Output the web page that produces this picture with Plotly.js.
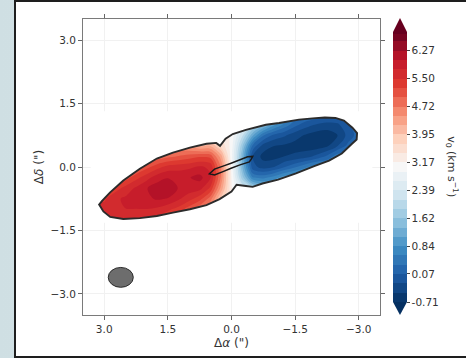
<!DOCTYPE html>
<html>
<head>
<meta charset="utf-8">
<script src="https://cdn.plot.ly/plotly-3.0.1.min.js"></script>
<style>
  html, body { margin:0; padding:0; width:466px; height:358px; overflow:hidden;
    background: linear-gradient(90deg, #cfdfe3 0%, #dde9eb 100%); }
  #frame { position:absolute; left:14px; top:0; width:452px; height:354px;
    border-top:2px solid #1e1e1e; border-left:2px solid #1e1e1e; border-bottom:2px solid #1e1e1e;
    background:#fff; }
  #chart { width:450px; height:354px; }
</style>
</head>
<body>
<div id="frame"><div id="chart"></div></div>
<script>
// ---- data ----
const xOffsets = [3.25, 3.0, 2.75, 2.5, 2.25, 2.0, 1.75, 1.5, 1.25, 1.0, 0.75, 0.5, 0.25, 0,
                  -0.25, -0.5, -0.75, -1.0, -1.25, -1.5, -1.75, -2.0, -2.25, -2.5, -2.75, -3.0, -3.25];
const yOffsets = [-1.25, -1.0, -0.75, -0.5, -0.25, 0, 0.25, 0.5, 0.75, 1.0, 1.25];
const N = null;
const velocity = [
  [N, 5.55, 5.5, 5.5, 5.5, 5.45, 5.35, 5.25, 5.15, 5.0, 4.7, N, N, N, N, N, N, N, N, N, N, N, N, N, N, N, N],
  [5.55, 5.6, 5.7, 5.75, 5.75, 5.75, 5.7, 5.55, 5.4, 5.1, 4.75, 4.4, 3.8, 3.3, N, N, N, N, N, N, N, N, N, N, N, N, N],
  [5.5, 5.45, 5.7, 5.8, 5.85, 5.95, 6.05, 6.0, 5.8, 5.6, 5.35, 4.85, 3.9, 3.3, 2.5, 2.0, N, N, N, N, N, N, N, N, N, N, N],
  [N, 5.35, 5.35, 5.6, 5.8, 6.0, 6.15, 6.2, 6.0, 5.9, 5.85, 5.45, 4.4, 3.2, 2.4, 1.85, 1.5, 1.4, 1.3, N, N, N, N, N, N, N, N],
  [N, N, 5.15, 5.1, 5.4, 5.65, 5.9, 6.0, 5.95, 6.0, 6.1, 5.8, 4.7, 3.15, 1.75, 0.6, 0.5, 0.7, 1.0, 1.1, 1.0, N, N, N, N, N, N],
  [N, N, N, 5.0, 4.9, 5.15, 5.4, 5.6, 5.65, 5.7, 5.8, 5.7, 4.7, 3.1, 1.4, -0.1, -0.3, -0.2, 0.05, 0.3, 0.55, 0.75, 0.75, 0.7, N, N, N],
  [N, N, N, N, N, 4.8, 4.8, 4.9, 5.0, 5.1, 5.2, 5.15, 4.35, 3.0, 1.4, -0.2, -0.55, -0.55, -0.45, -0.4, -0.3, -0.12, 0.12, 0.5, 0.45, N, N],
  [N, N, N, N, N, N, N, 4.6, 4.5, 4.4, 4.2, 4.2, 3.65, 3.05, 1.7, 0.25, -0.3, -0.45, -0.5, -0.55, -0.6, -0.6, -0.5, -0.2, 0.15, 0.3, N],
  [N, N, N, N, N, N, N, N, N, 4.3, 4.0, 3.8, 3.45, 3.1, 2.2, 1.15, 0.35, 0.0, -0.15, -0.35, -0.48, -0.58, -0.6, -0.45, -0.1, 0.2, 0.3],
  [N, N, N, N, N, N, N, N, N, N, N, N, N, 3.1, 2.55, 2.0, 1.45, 0.9, 0.5, 0.15, -0.08, -0.22, -0.3, -0.25, 0.05, 0.25, N],
  [N, N, N, N, N, N, N, N, N, N, N, N, N, N, N, N, N, 1.3, 0.85, 0.6, 0.4, 0.3, 0.2, 0.2, 0.25, N, N]
];
// emission boundary contour
const outlineX = [3.12, 3.05, 2.86, 2.55, 2.16, 1.76, 1.38, 0.98, 0.59, 0.36, 0.27, 0.14, -0.03, -0.34, -0.81, -1.12, -1.59, -1.91, -2.2, -2.45, -2.65, -2.85, -2.96, -2.95, -2.84, -2.6, -2.30, -1.95, -1.52, -1.1, -0.73, -0.5, -0.34, -0.12, 0.0, 0.28, 0.59, 0.98, 1.38, 1.76, 2.16, 2.55, 2.86, 3.02, 3.12];
const outlineY = [-0.89, -0.8, -0.6, -0.32, -0.04, 0.2, 0.34, 0.46, 0.55, 0.57, 0.5, 0.67, 0.78, 0.88, 1.0, 1.04, 1.12, 1.15, 1.17, 1.16, 1.1, 0.93, 0.8, 0.65, 0.55, 0.32, 0.15, 0.02, -0.15, -0.3, -0.39, -0.47, -0.45, -0.42, -0.58, -0.76, -0.9, -1.0, -1.08, -1.16, -1.21, -1.23, -1.18, -1.05, -0.89];
// inner contour near the centre
const innerX = [0.52, 0.40, 0.2, 0.01, -0.2, -0.38, -0.50, -0.47, -0.42, -0.2, 0.01, 0.2, 0.40, 0.52];
const innerY = [-0.16, -0.05, 0.02, 0.09, 0.17, 0.24, 0.25, 0.19, 0.12, 0.05, -0.03, -0.11, -0.19, -0.16];
// synthesized beam
const beamX = 2.61, beamY = -2.61, beamW = 0.59, beamH = 0.47;
// colour levels / bar ticks
const levelStart = -0.71, levelEnd = 6.79, levelStep = 0.2586;
const barTicks = [-0.71, 0.07, 0.84, 1.62, 2.39, 3.17, 3.95, 4.72, 5.50, 6.27];
const barTickText = ['-0.71', '0.07', '0.84', '1.62', '2.39', '3.17', '3.95', '4.72', '5.50', '6.27'];
const axisTicks = [3.0, 1.5, 0.0, -1.5, -3.0];

// ---- drawing ----
const rdbu_r = [
  [0.0, '#053061'], [0.1, '#1d5ca6'], [0.2, '#3f8dc3'], [0.3, '#8fc2de'], [0.4, '#d1e5f0'],
  [0.5, '#f7f7f7'], [0.6, '#fdd3bf'], [0.7, '#f68f72'], [0.8, '#e03d31'], [0.9, '#c0152a'], [1.0, '#67001f']
];

function pathFrom(xs, ys) {
  return xs.map((x, i) => (i === 0 ? 'M' : 'L') + x + ',' + ys[i]).join(' ') + ' Z';
}

const field = {
  type: 'contour',
  x: xOffsets, y: yOffsets, z: velocity,
  zmin: levelStart, zmax: levelEnd, zauto: false,
  colorscale: rdbu_r,
  contours: { start: levelStart, end: levelEnd, size: levelStep, coloring: 'fill', showlines: false },
  line: { width: 0 },
  hoverinfo: 'skip',
  colorbar: {
    x: 1.0438, xanchor: 'left', xpad: 0,
    y: 0.5, yanchor: 'middle', ypad: 0,
    len: 270, lenmode: 'pixels', thickness: 14, thicknessmode: 'pixels',
    outlinewidth: 0,
    tickmode: 'array', tickvals: barTicks, ticktext: barTickText,
    ticks: 'outside', ticklen: 3, tickcolor: '#444', tickwidth: 1,
    tickfont: { family: 'DejaVu Sans', size: 10.5, color: '#333' }
  }
};

const bb = [3.32, -3.32, -1.32, 1.32];
const maskPath = 'M' + bb[0] + ',' + bb[2] + ' L' + bb[1] + ',' + bb[2] + ' L' + bb[1] + ',' + bb[3] +
  ' L' + bb[0] + ',' + bb[3] + ' Z ' + pathFrom(outlineX, outlineY);

const shapes = [
  { type: 'path', xref: 'x', yref: 'y', path: maskPath, fillcolor: '#ffffff', fillrule: 'evenodd',
    line: { width: 0 }, layer: 'above' },
  { type: 'path', xref: 'x', yref: 'y', path: pathFrom(outlineX, outlineY),
    line: { color: '#2b2b2b', width: 1.9 }, fillcolor: 'rgba(0,0,0,0)', layer: 'above' },
  { type: 'path', xref: 'x', yref: 'y', path: pathFrom(innerX, innerY),
    line: { color: '#1a1a1a', width: 1.5 }, fillcolor: 'rgba(0,0,0,0)', layer: 'above' },
  { type: 'circle', xref: 'x', yref: 'y', x0: beamX + beamW / 2, x1: beamX - beamW / 2,
    y0: beamY - beamH / 2, y1: beamY + beamH / 2, fillcolor: '#6d6d6d',
    line: { color: '#2b2b2b', width: 1 }, layer: 'above' },
  // colour-bar extension arrows
  { type: 'path', xref: 'paper', yref: 'paper', path: 'M1.0438,0.9561 L1.0909,0.9561 L1.0673,1.0034 Z',
    fillcolor: '#67001f', line: { width: 0 } },
  { type: 'path', xref: 'paper', yref: 'paper', path: 'M1.0438,0.0439 L1.0909,0.0439 L1.0673,0.0 Z',
    fillcolor: '#053061', line: { width: 0 } }
];

const axisCommon = {
  range: [-3.5, 3.5], tickmode: 'array', tickvals: axisTicks,
  ticks: 'outside', ticklen: 4, tickcolor: '#666', tickwidth: 1,
  showline: true, linecolor: '#7a7a7a', linewidth: 1, mirror: 'ticks',
  showgrid: true, gridcolor: '#f1f1f1', gridwidth: 1, zeroline: false,
  tickfont: { family: 'DejaVu Sans', size: 10.5, color: '#333' }
};

const layout = {
  width: 450, height: 354,
  margin: { l: 67, r: 86, t: 17, b: 41 },
  paper_bgcolor: '#ffffff', plot_bgcolor: '#ffffff',
  font: { family: 'DejaVu Sans', color: '#333' },
  showlegend: false,
  xaxis: Object.assign({}, axisCommon, {
    range: [3.5, -3.5], tickformat: '.1f',
    title: { text: 'Δ<i>α</i> (")', font: { size: 12, color: '#333' }, standoff: 5 }
  }),
  yaxis: Object.assign({}, axisCommon, {
    range: [-3.5, 3.5], tickformat: '.1f',
    title: { text: 'Δ<i>δ</i> (")', font: { size: 12, color: '#333' }, standoff: 4 }
  }),
  shapes: shapes,
  annotations: [{
    xref: 'paper', yref: 'paper', x: 1.242, y: 0.5, xanchor: 'center', yanchor: 'middle',
    text: 'v<sub>0</sub> (km s<sup>−1</sup>)', textangle: 90, showarrow: false,
    font: { family: 'DejaVu Sans', size: 11, color: '#333' }
  }]
};

Plotly.newPlot('chart', [field], layout, { displayModeBar: false, staticPlot: true });
</script>
</body>
</html>
